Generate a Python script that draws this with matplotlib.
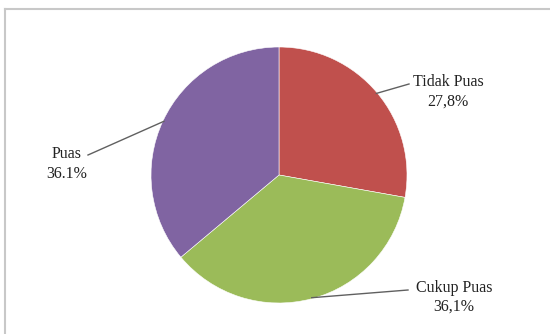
import numpy as np
import matplotlib.pyplot as plt

W, H = 550, 334

categories = ["Tidak Puas", "Cukup Puas", "Puas"]
values = [27.8, 36.1, 36.1]
pct_labels = ["27,8%", "36,1%", "36.1%"]
colors = ["#C0504D", "#9BBB59", "#8064A2"]

# layout in pixel space (y from top)
CENTER = (279, 175)
RADIUS = 128
text_pos = {"Tidak Puas": (448, 92), "Cukup Puas": (454, 297), "Puas": (67, 164)}
line_end = {"Tidak Puas": (409, 84), "Cukup Puas": (408, 290), "Puas": (88, 155)}

plt.rcParams["font.family"] = ["Liberation Serif", "DejaVu Serif"]

fig = plt.figure(figsize=(W / 100, H / 100), dpi=100)
ax = fig.add_axes([0, 0, 1, 1])

cx, cy = CENTER[0], H - CENTER[1]
wedges, _ = ax.pie(values, colors=colors, startangle=90, counterclock=False,
                   center=(cx, cy), radius=RADIUS, frame=True,
                   wedgeprops=dict(edgecolor="white", linewidth=0.4))
ax.set_xlim(0, W)
ax.set_ylim(0, H)
ax.set_aspect("equal")
ax.axis("off")

for w, name, pct in zip(wedges, categories, pct_labels):
    mid = np.deg2rad((w.theta1 + w.theta2) / 2)
    sx = cx + (RADIUS - 1) * np.cos(mid)
    sy = cy + (RADIUS - 1) * np.sin(mid)
    ex, ey = line_end[name]
    ax.plot([sx, ex], [sy, H - ey], color="#606060", lw=1.0, zorder=3)
    tx, ty = text_pos[name]
    ax.text(tx, H - ty, f"{name}\n{pct}", ha="center", va="center",
            fontsize=11.5, color="#222222", linespacing=1.25)

# chart frame (cropped at right/bottom)
ax.plot([5, 5], [0, H - 9], color="#C8C8C8", lw=1.5)
ax.plot([5, W], [H - 9, H - 9], color="#C8C8C8", lw=1.5)

fig.savefig("out.png", dpi=100, facecolor="white")
